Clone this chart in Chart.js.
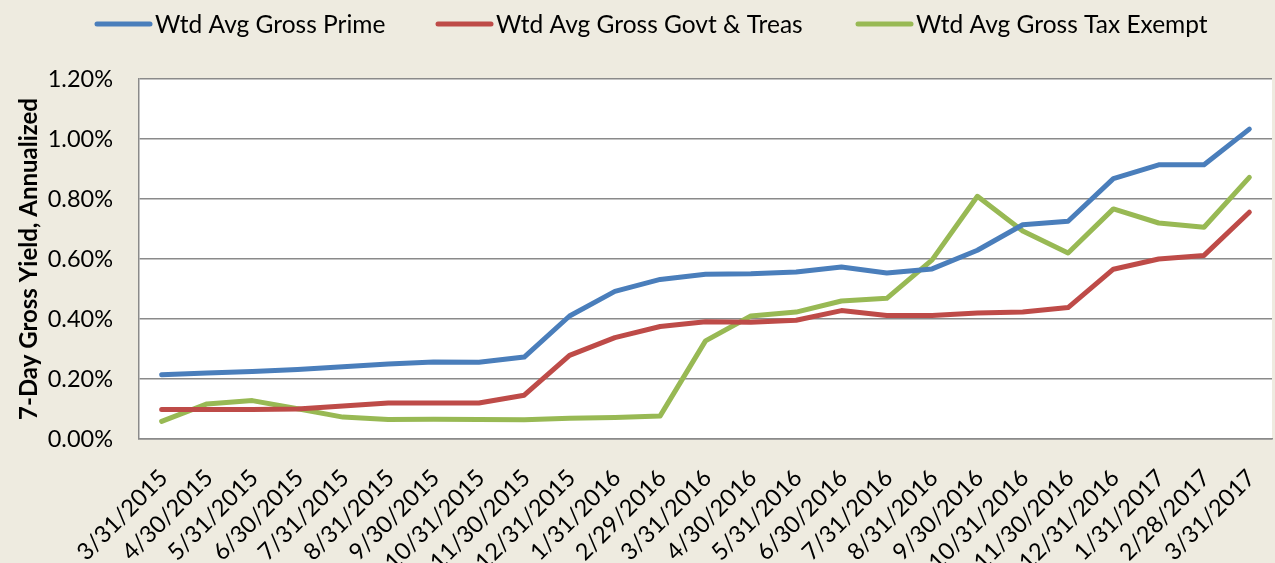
<!DOCTYPE html>
<html>
<head>
<meta charset="utf-8">
<script src="https://cdn.jsdelivr.net/npm/chart.js@4.4.0/dist/chart.umd.min.js"></script>
<style>
  html, body { margin: 0; padding: 0; background: #eeebe0; }
  #wrap { width: 1275px; height: 563px; position: relative; }
</style>
</head>
<body>
<div id="wrap"><canvas id="chart"></canvas></div>
<script>
// month-end dates
const dates = [
  "3/31/2015", "4/30/2015", "5/31/2015", "6/30/2015", "7/31/2015", "8/31/2015",
  "9/30/2015", "10/31/2015", "11/30/2015", "12/31/2015", "1/31/2016", "2/29/2016",
  "3/31/2016", "4/30/2016", "5/31/2016", "6/30/2016", "7/31/2016", "8/31/2016",
  "9/30/2016", "10/31/2016", "11/30/2016", "12/31/2016", "1/31/2017", "2/28/2017",
  "3/31/2017"
];

// 7-day gross yield, annualized (%)
const prime = [0.214, 0.220, 0.225, 0.232, 0.241, 0.250, 0.257, 0.256, 0.273, 0.410, 0.492, 0.532,
  0.549, 0.551, 0.557, 0.573, 0.553, 0.567, 0.629, 0.714, 0.726, 0.868, 0.914, 0.914, 1.033];
const govtTreas = [0.098, 0.098, 0.098, 0.100, 0.110, 0.120, 0.120, 0.120, 0.146, 0.279, 0.338, 0.375,
  0.391, 0.389, 0.396, 0.428, 0.412, 0.412, 0.420, 0.423, 0.438, 0.566, 0.600, 0.612, 0.756];
const taxExempt = [0.059, 0.117, 0.128, 0.101, 0.073, 0.065, 0.066, 0.065, 0.064, 0.069, 0.072, 0.077,
  0.327, 0.410, 0.423, 0.460, 0.469, 0.597, 0.809, 0.693, 0.620, 0.767, 0.720, 0.706, 0.872];

const seriesNames = ["Wtd Avg Gross Prime", "Wtd Avg Gross Govt & Treas", "Wtd Avg Gross Tax Exempt"];
const seriesColors = ["#4a7ebb", "#be4b48", "#98b954"];
const yMin = 0, yMax = 1.2, yStep = 0.2;

const FONT = "Lato";
const GRID = "#8a8a8a";

const legendLeft = [96, 437, 857];

// white plot area on the beige page
const plotBg = {
  id: "plotBg",
  beforeDraw(chart) {
    const a = chart.chartArea, ctx = chart.ctx;
    ctx.save();
    ctx.fillStyle = "#ffffff";
    ctx.fillRect(a.left, a.top, a.right - a.left, a.bottom - a.top);
    ctx.restore();
  }
};

// excel-style legend: short line swatch + label
const lineLegend = {
  id: "lineLegend",
  afterDraw(chart) {
    const ctx = chart.ctx;
    ctx.save();
    ctx.font = "24.5px " + FONT;
    ctx.textBaseline = "middle";
    chart.data.datasets.forEach((ds, i) => {
      const x = legendLeft[i], y = 24;
      ctx.strokeStyle = ds.borderColor;
      ctx.lineWidth = 5;
      ctx.lineCap = "round";
      ctx.beginPath();
      ctx.moveTo(x + 1, y);
      ctx.lineTo(x + 54, y);
      ctx.stroke();
      ctx.fillStyle = "#000";
      ctx.fillText(ds.label, x + 59, y + 1);
    });
    ctx.restore();
  }
};

function drawChart() {
  const el = document.getElementById("chart");
  const series = [prime, govtTreas, taxExempt];

  new Chart(el, {
    type: "line",
    data: {
      labels: dates,
      datasets: series.map((d, i) => ({
        label: seriesNames[i],
        data: d,
        borderColor: seriesColors[i],
        backgroundColor: seriesColors[i],
        borderWidth: 5,
        borderCapStyle: "round",
        borderJoinStyle: "round",
        pointRadius: 0,
        tension: 0,
        fill: false,
      })),
    },
    options: {
      responsive: true,
      maintainAspectRatio: false,
      animation: false,
      devicePixelRatio: 1,
      layout: { padding: { top: 79, right: 3, left: 0, bottom: 0 } },
      plugins: { legend: { display: false }, tooltip: { enabled: false } },
      scales: {
        x: {
          offset: true,
          grid: { display: false, drawTicks: false },
          border: { color: GRID, width: 1.5 },
          ticks: {
            color: "#000",
            font: { family: FONT, size: 23.5 },
            minRotation: 45,
            maxRotation: 45,
            autoSkip: false,
            padding: 25,
            labelOffset: 2,
          },
          afterFit(scale) {
            scale.height = 124;
            scale.paddingLeft = 0;
            scale.paddingRight = 0;
          },
        },
        y: {
          min: yMin,
          max: yMax,
          grid: { color: GRID, lineWidth: 1.5, drawTicks: false },
          border: { color: GRID, width: 1.5 },
          ticks: {
            stepSize: yStep,
            color: "#000",
            font: { family: FONT, size: 23.5 },
            padding: 26,
            callback: (v) => v.toFixed(2) + "%",
          },
          title: {
            display: true,
            text: "7-Day Gross Yield, Annualized",
            color: "#000",
            font: { family: FONT, size: 24, weight: "bold" },
            padding: { top: 15, bottom: 0 },
          },
          afterFit(scale) {
            scale.width = 139;
            scale.paddingTop = 0;
            scale.paddingBottom = 0;
          },
        },
      },
    },
    plugins: [plotBg, lineLegend],
  });
}

window.addEventListener("load", drawChart);
</script>
</body>
</html>
